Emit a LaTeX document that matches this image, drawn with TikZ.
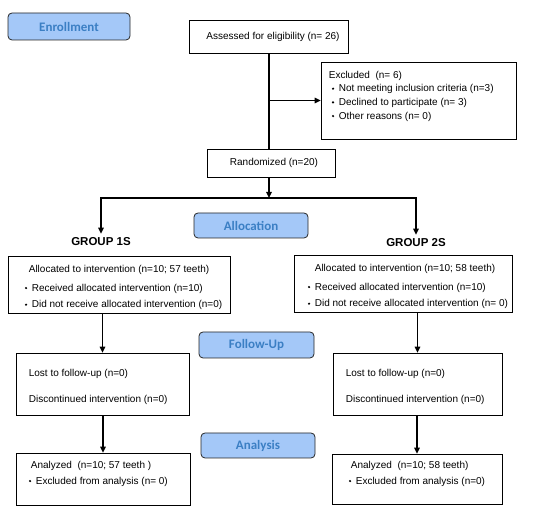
\documentclass[tikz,border=0pt]{standalone}
\usepackage{fontspec}
\setmainfont{Liberation Sans}
\newfontfamily\stagefont{Carlito}
\usetikzlibrary{positioning,arrows.meta}
\definecolor{stagefill}{HTML}{A4C8F8}
\definecolor{stagetext}{HTML}{3B7FC4}
\newcommand{\bul}{\makebox[7pt][l]{\raisebox{.35ex}{\rotatebox{45}{\rule{1.7pt}{1.7pt}}}}}

\begin{document}
\begin{tikzpicture}[x=1pt,y=-1pt,
  stage/.style={draw=black!85, line width=.8pt, fill=stagefill, rounded corners=4pt, text=stagetext, font=\stagefont\bfseries\fontsize{13}{15}\selectfont, minimum width=114pt, minimum height=25pt, inner sep=0pt},
  flowbox/.style={draw, line width=.7pt, inner sep=0pt, font=\fontsize{10}{13.7}\selectfont},
  txt/.style={align=left, inner sep=0pt, font=\fontsize{10}{13.7}\selectfont},
  grouplbl/.style={font=\bfseries\fontsize{11.5}{13}\selectfont, inner sep=4pt},
  flow/.style={line width=1.4pt, -{Triangle[length=6pt,width=5.5pt]}},
  line/.style={line width=1.4pt}]
\useasboundingbox (0,0) rectangle (550,513);

% stages
\node[stage, minimum width=122pt, minimum height=27pt] (enrol) at (69,26.5) {Enrollment};
\node[stage] (alloc) at (251,225.5) {Allocation};
\node[stage, minimum width=115pt, minimum height=26pt] (follow) at (256.5,345) {Follow-Up};
\node[stage] (anal) at (258,445.5) {Analysis};

% enrollment
\node[flowbox, minimum width=159pt, minimum height=33pt] (assess) at (269,36.5) {\hspace*{8pt}Assessed for eligibility (n= 26)};
\node[flowbox, minimum width=195pt, minimum height=77pt] (excl) at (418.5,100.5) {};
\node[txt, right=8pt of excl.west, yshift=4.5pt] (excltxt) {Excluded\ \ (n= 6)\\
  \hspace*{3pt}\bul Not meeting inclusion criteria (n=3)\\
  \hspace*{3pt}\bul Declined to participate (n= 3)\\
  \hspace*{3pt}\bul Other reasons (n= 0)};
\node[flowbox, minimum width=128pt, minimum height=28pt] (rand) at (271,163) {\hspace*{6pt}Randomized (n=20)};

% groups
\node[grouplbl] (lblA) at (101,242) {GROUP 1S};
\node[grouplbl] (lblB) at (416,243) {GROUP 2S};
\node[flowbox, minimum width=222pt, minimum height=57pt] (grpA) at (119,284.5) {};
\node[txt, right=17pt of grpA.west, yshift=-3pt] (grpAtxt) {\hspace*{4pt}Allocated to intervention (n=10; 57 teeth)\\[5pt]
  \bul Received allocated intervention (n=10)\\[3pt]
  \bul Did not receive allocated intervention (n=0)};
\node[flowbox, minimum width=218pt, minimum height=57pt] (grpB) at (403,283.5) {};
\node[txt, right=14pt of grpB.west, yshift=-3pt] (grpBtxt) {\hspace*{7pt}Allocated to intervention (n=10; 58 teeth)\\[5pt]
  \bul Received allocated intervention (n=10)\\[3pt]
  \bul Did not receive allocated intervention (n= 0)};

% follow-up
\node[flowbox, minimum width=173pt, minimum height=62pt] (lostA) at (102.5,384) {};
\node[txt, right=13pt of lostA.west, yshift=-2.5pt] (lostAtxt) {Lost to follow-up (n=0)\\[12.3pt] Discontinued intervention (n=0)};
\node[flowbox, minimum width=169pt, minimum height=62pt] (lostB) at (417.5,384) {};
\node[txt, right=13pt of lostB.west, yshift=-2.5pt] (lostBtxt) {Lost to follow-up (n=0)\\[12.3pt] Discontinued intervention (n=0)};

% analysis
\node[flowbox, minimum width=174pt, minimum height=52pt] (anA) at (103,479) {};
\node[txt, right=13pt of anA.west, yshift=5.5pt] (anAtxt) {\hspace*{2pt}Analyzed\ \ (n=10; 57 teeth )\\[2.3pt] \bul Excluded from analysis (n= 0)};
\node[flowbox, minimum width=170pt, minimum height=50pt] (anB) at (417,479) {};
\node[txt, right=17pt of anB.west, yshift=5.5pt] (anBtxt) {\hspace*{2pt}Analyzed\ \ (n=10; 58 teeth)\\[2.3pt] \bul Excluded from analysis (n=0)};

% connectors
\coordinate (fork) at (assess.south |- 0,198);
\draw[line] (assess.south) -- (assess.south |- rand.north);
\draw[flow] (assess.south |- excl.west) -- (excl.west);
\draw[flow] (assess.south |- rand.south) -- (fork);
\draw[flow] (fork) -| (lblA.north);
\draw[flow] (fork) -| (lblB.north);
\draw[flow] (lostA.north |- grpA.south) -- (lostA.north);
\draw[flow] (lostB.north |- grpB.south) -- (lostB.north);
\draw[flow] (anA.north |- lostA.south) -- (anA.north);
\draw[flow] (anB.north |- lostB.south) -- (anB.north);
\end{tikzpicture}
\end{document}
